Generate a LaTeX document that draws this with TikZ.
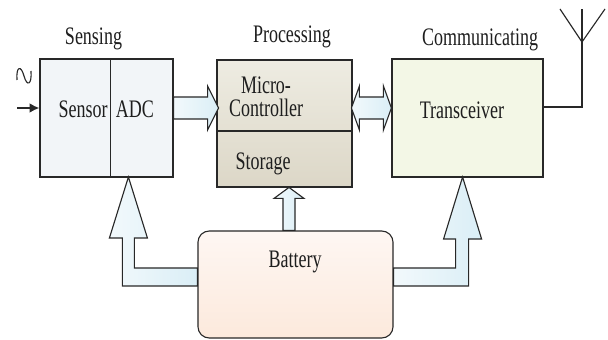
\documentclass[tikz,border=0pt]{standalone}
\usepackage{fontspec}
\setmainfont{Liberation Serif}
\usepackage{graphicx}
\usepackage{tikz}
\usetikzlibrary{arrows.meta,positioning,calc}
\definecolor{edge}{RGB}{40,40,40}
\definecolor{txt}{RGB}{30,30,30}
\definecolor{sensfill}{RGB}{242,245,248}
\definecolor{proctop}{RGB}{238,236,226}
\definecolor{procbot}{RGB}{220,215,199}
\definecolor{trxfill}{RGB}{243,247,230}
\definecolor{battop}{RGB}{254,247,243}
\definecolor{batbot}{RGB}{252,233,220}
\definecolor{arw}{RGB}{218,238,246}
\newcommand{\tallt}[1]{\scalebox{1}[1.4]{#1}}
\tikzset{
  blockbox/.style={rectangle,draw=edge,line width=0.8pt,inner sep=0pt},
  fatarrow/.style={draw=edge,line width=0.8pt,left color=arw!35,right color=arw,line join=miter},
  wire/.style={draw=edge,line width=0.8pt},
  lbl/.style={anchor=base,inner sep=0pt,text=txt,font=\fontsize{12.8}{17}\selectfont},
}
\begin{document}
\begin{tikzpicture}[x=0.025cm,y=-0.025cm]
\useasboundingbox (0,0) rectangle (608,340);
% blocks
\node[blockbox,fill=sensfill,minimum width=3.325cm,minimum height=2.95cm] (sens) at (106.5,118) {};
\node[blockbox,top color=proctop,bottom color=procbot,minimum width=3.375cm,minimum height=3.175cm] (proc) at (284.5,123.5) {};
\node[blockbox,fill=trxfill,minimum width=3.775cm,minimum height=2.95cm] (trx) at (467.5,118) {};
\node[blockbox,rounded corners=8pt,top color=battop,bottom color=batbot,minimum width=4.875cm,minimum height=2.675cm] (bat) at (295.5,284.5) {};
% inner dividers
\draw[wire] (sens.north west) ++(71,0) -- ++(0,118);
\draw[wire] (proc.west) ++(0,7.5) -- ++(135,0);

% titles
\node[lbl] (tsens) at (93.5,45) {\tallt{Sensing}};
\node[lbl] (tproc) at (292,43) {\tallt{Processing}};
\node[lbl] (tcomm) at (480,46) {\tallt{Communicating}};
% block texts
\node[lbl] (lsensor) at (83,118) {\tallt{Sensor}};
\node[lbl] (ladc) at (135,118) {\tallt{ADC}};
\node[lbl,align=center] (lmcu) at (266,117) {\tallt{Micro-}\\\tallt{Controller}};
\node[lbl] (lstore) at (263,170) {\tallt{Storage}};
\node[lbl] (ltrx) at (462,119) {\tallt{Transceiver}};
\node[lbl] (lbat) at (295,268) {\tallt{Battery}};

% data path
\draw[fatarrow] (sens.east) ++(0,-21) -- ++(34,0) -- ++(0,-11) -- ++(11,22) -- ++(-11,22) -- ++(0,-11) -- ++(-34,0) -- cycle;
\draw[fatarrow] (trx.west) ++(0,-10) -- ++(-8,-22) -- ++(0,11) -- ++(-24,0) -- ++(0,-11) -- ++(-8,22) -- ++(8,22) -- ++(0,-11) -- ++(24,0) -- ++(0,11) -- cycle;
% power paths
\draw[fatarrow] (bat.north) ++(-12.5,0) -- ++(0,-32) -- ++(-9,0) -- ++(15,-11) -- ++(15,11) -- ++(-9,0) -- ++(0,32) -- cycle;
\draw[fatarrow] (bat.west) ++(0,1.5) -- ++(-75,0) -- ++(0,-48) -- ++(-13,0) -- ++(19,-61) -- ++(19,61) -- ++(-13,0) -- ++(0,30) -- ++(63,0) -- cycle;
\draw[fatarrow] (bat.east) ++(0,1.5) -- ++(75,0) -- ++(0,-47) -- ++(13,0) -- ++(-19,-62) -- ++(-19,62) -- ++(12,0) -- ++(0,29) -- ++(-62,0) -- cycle;

% analog input
\coordinate (sig) at (17,108);
\draw[edge,line width=1.3pt,-{Latex[length=7pt,width=7pt]}] (sig) -- (sig -| sens.west);
\draw[edge,line width=0.8pt] (17,80) .. controls (16,66) and (21,65) .. (24,76) .. controls (27,87) and (32,85) .. (31,71);
% antenna
\coordinate (ant) at (582,42);
\draw[wire] (trx.east) ++(0,-11) -| (ant) -- ++(0,-33);
\draw[wire] (ant) -- ++(-22,-33);
\draw[wire] (ant) -- ++(23,-33);
\end{tikzpicture}
\end{document}
